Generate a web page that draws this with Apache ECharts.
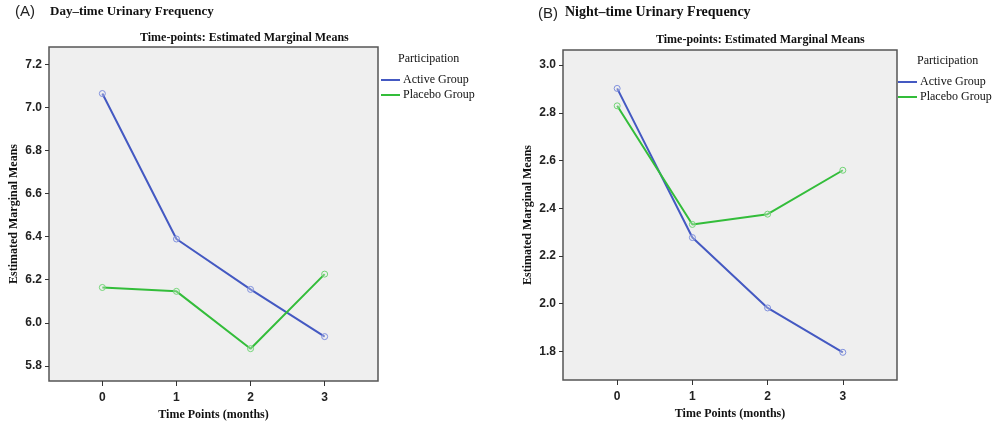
<!DOCTYPE html>
<html>
<head>
<meta charset="utf-8">
<script src="https://cdn.jsdelivr.net/npm/echarts@6/dist/echarts.min.js"></script>
<style>
html,body{margin:0;padding:0;background:#fff;}
#chart{width:1001px;height:432px;}
</style>
</head>
<body>
<div id="chart"></div>
<script>
// ---- data ----
const timePoints = [0, 1, 2, 3];
const seriesNames = ['Active Group', 'Placebo Group'];
const dayActive = [7.064, 6.389, 6.155, 5.936];
const dayPlacebo = [6.164, 6.146, 5.880, 6.226];
const nightActive = [2.902, 2.277, 1.982, 1.796];
const nightPlacebo = [2.829, 2.332, 2.375, 2.559];
const dayTicks = [5.8, 6.0, 6.2, 6.4, 6.6, 6.8, 7.0, 7.2];
const nightTicks = [1.8, 2.0, 2.2, 2.4, 2.6, 2.8, 3.0];
const panelTitles = ['Day\u2013time Urinary Frequency', 'Night\u2013time Urinary Frequency'];
const panelLetters = ['(A)', '(B)'];
const chartTitle = 'Time-points: Estimated Marginal Means';
const legendTitle = 'Participation';
const xName = 'Time Points (months)';
const yName = 'Estimated Marginal Means';

const BLUE = '#4459c2';
const GREEN = '#33bd3a';
const BLUE_M = '#7f90de';
const GREEN_M = '#72d576';
const SERIF = '"Liberation Serif", "DejaVu Serif", serif';
const SANS = '"Liberation Sans", Arial, sans-serif';

function pts(ys) { return timePoints.map((x, i) => [x, ys[i]]); }

function makeX(gi) {
  return {
    type: 'value', gridIndex: gi, min: -0.72, max: 3.72,
    axisLine: { show: false, onZero: false },
    splitLine: { show: false },
    axisTick: { show: true, length: 5, customValues: timePoints, lineStyle: { color: '#333', width: 1 } },
    axisLabel: { customValues: timePoints, margin: 11, color: '#222', fontFamily: SANS, fontSize: 12, fontWeight: 'bold' },
    name: xName, nameLocation: 'middle', nameGap: 27,
    nameTextStyle: { fontFamily: SERIF, fontWeight: 'bold', fontSize: 12, color: '#111' }
  };
}
function makeY(gi, min, max, ticks) {
  return {
    type: 'value', gridIndex: gi, min: min, max: max,
    axisLine: { show: false, onZero: false },
    splitLine: { show: false },
    axisTick: { show: true, length: 4, customValues: ticks, lineStyle: { color: '#333', width: 1 } },
    axisLabel: { customValues: ticks, margin: 7, color: '#222', fontFamily: SANS, fontSize: 12, fontWeight: 'bold',
      formatter: v => Number(v).toFixed(1) },
    name: yName, nameLocation: 'middle', nameGap: 29,
    nameTextStyle: { fontFamily: SERIF, fontWeight: 'bold', fontSize: 12, color: '#111' }
  };
}
function makeSeries(name, data, gi, color, mcolor) {
  return {
    type: 'line', name: name, xAxisIndex: gi, yAxisIndex: gi, data: pts(data),
    symbol: 'circle', symbolSize: 6,
    lineStyle: { color: color, width: 2 },
    itemStyle: { color: 'rgba(240,240,240,0.3)', borderColor: mcolor, borderWidth: 1 },
    emphasis: { disabled: true }
  };
}
function makeLegend(left, top) {
  return {
    left: left, top: top, orient: 'vertical', icon: 'rect', itemWidth: 19, itemHeight: 2,
    itemGap: 1, padding: 0,
    data: [
      { name: seriesNames[0], itemStyle: { color: BLUE, borderWidth: 0 } },
      { name: seriesNames[1], itemStyle: { color: GREEN, borderWidth: 0 } }
    ],
    textStyle: { fontFamily: SERIF, fontSize: 12, color: '#111', lineHeight: 14, padding: [0, 0, 0, -2] },
    selectedMode: false
  };
}
function t(text, left, top, style) {
  return { text: text, left: left, top: top, padding: 0, textStyle: style };
}
const titleSerifBold = (s) => ({ fontFamily: SERIF, fontWeight: 'bold', fontSize: s, color: '#111' });
const letterStyle = { fontFamily: SANS, fontWeight: 'normal', fontSize: 15, color: '#222' };
const legTitleStyle = { fontFamily: SERIF, fontWeight: 'normal', fontSize: 12, color: '#111' };

const chart = echarts.init(document.getElementById('chart'), null, { renderer: 'canvas' });
chart.setOption({
  animation: false,
  backgroundColor: '#fff',
  title: [
    t(panelLetters[0], 15, 4, letterStyle),
    t(panelTitles[0], 50, 5, titleSerifBold(13)),
    t(panelLetters[1], 538, 6, letterStyle),
    t(panelTitles[1], 565, 5, titleSerifBold(14)),
    t(chartTitle, 140, 32, titleSerifBold(12)),
    t(chartTitle, 656, 34, titleSerifBold(12)),
    t(legendTitle, 398, 53, legTitleStyle),
    t(legendTitle, 917, 55, legTitleStyle)
  ],
  legend: [makeLegend(381, 73), makeLegend(898, 75)],
  grid: [
    { left: 49, top: 47, width: 329, height: 334, show: true, backgroundColor: '#efefef', borderColor: '#555', borderWidth: 1.5 },
    { left: 563, top: 50, width: 334, height: 330, show: true, backgroundColor: '#efefef', borderColor: '#555', borderWidth: 1.5 }
  ],
  xAxis: [makeX(0), makeX(1)],
  yAxis: [makeY(0, 5.73, 7.28, dayTicks), makeY(1, 1.68, 3.063, nightTicks)],
  series: [
    makeSeries(seriesNames[0], dayActive, 0, BLUE, BLUE_M),
    makeSeries(seriesNames[1], dayPlacebo, 0, GREEN, GREEN_M),
    makeSeries(seriesNames[0], nightActive, 1, BLUE, BLUE_M),
    makeSeries(seriesNames[1], nightPlacebo, 1, GREEN, GREEN_M)
  ]
});
</script>
</body>
</html>
